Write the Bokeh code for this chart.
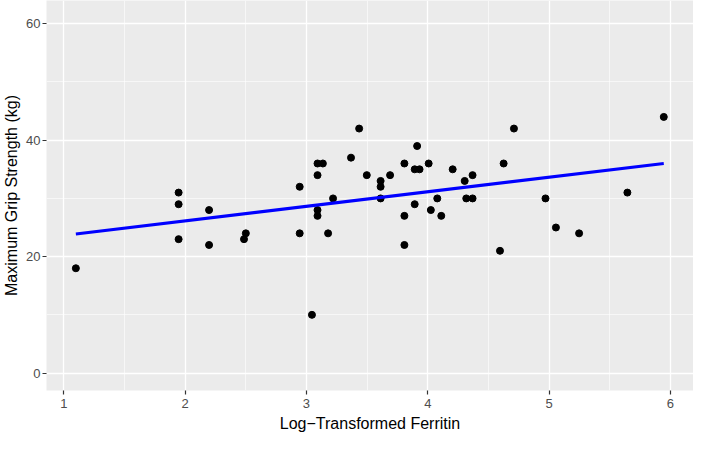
import numpy as np
from bokeh.plotting import figure
from bokeh.models import Range1d, FixedTicker, ColumnDataSource
from bokeh.embed import file_html
from bokeh.resources import INLINE

log_ferritin = [1.099, 1.946, 1.946, 1.946, 2.197, 2.197, 2.485, 2.500, 2.944, 2.944,
                3.045, 3.091, 3.135, 3.091, 3.091, 3.091, 3.178, 3.219, 3.367, 3.434,
                3.497, 3.611, 3.611, 3.611, 3.689, 3.807, 3.807, 3.807, 3.892, 3.932,
                3.912, 3.892, 4.007, 4.025, 4.078, 4.111, 4.205, 4.304, 4.317, 4.369,
                4.369, 4.595, 4.625, 4.710, 4.970, 5.056, 5.247, 5.645, 5.945]
grip_strength = [18, 31, 29, 23, 28, 22, 23, 24, 32, 24,
                 10, 36, 36, 34, 28, 27, 24, 30, 37, 42,
                 34, 33, 32, 30, 34, 36, 27, 22, 35, 35,
                 39, 29, 36, 28, 30, 27, 35, 33, 30, 34,
                 30, 21, 36, 42, 30, 25, 24, 31, 44]

x_ticks = [1, 2, 3, 4, 5, 6]
y_ticks = [0, 20, 40, 60]

x = np.array(log_ferritin)
y = np.array(grip_strength, dtype=float)
slope, intercept = np.polyfit(x, y, 1)
fit_x = np.array([x.min(), x.max()])
fit_y = intercept + slope * fit_x

FONT = "Liberation Sans"

p = figure(width=693, height=434, output_backend="svg", toolbar_location=None,
           x_range=Range1d(0.857, 6.19), y_range=Range1d(-3, 64),
           min_border_left=0, min_border_right=0, min_border_top=0, min_border_bottom=0)

p.background_fill_color = "#EBEBEB"
p.border_fill_color = "white"
p.outline_line_color = None

p.xaxis.ticker = FixedTicker(ticks=x_ticks, minor_ticks=[1.5, 2.5, 3.5, 4.5, 5.5])
p.yaxis.ticker = FixedTicker(ticks=y_ticks, minor_ticks=[10, 30, 50])

for g in (p.xgrid, p.ygrid):
    g.grid_line_color = "white"
    g.grid_line_width = 1.3
    g.minor_grid_line_color = "white"
    g.minor_grid_line_width = 0.6

for ax in (p.xaxis, p.yaxis):
    ax.axis_line_color = None
    ax.major_tick_line_color = "#333333"
    ax.major_tick_line_width = 1.2
    ax.major_tick_out = 4
    ax.major_tick_in = 0
    ax.minor_tick_line_color = None
    ax.major_label_text_color = "#4D4D4D"
    ax.major_label_text_font = FONT
    ax.major_label_text_font_size = "13px"
    ax.axis_label_text_font = FONT
    ax.axis_label_text_font_style = "normal"
    ax.axis_label_text_font_size = "16px"
    ax.axis_label_text_color = "black"

p.xaxis.axis_label = "Log\u2212Transformed Ferritin"
p.yaxis.axis_label = "Maximum Grip Strength (kg)"
p.xaxis.major_label_standoff = 4
p.yaxis.major_label_standoff = 2
p.xaxis.axis_label_standoff = 4
p.yaxis.axis_label_standoff = 3

src = ColumnDataSource(dict(x=log_ferritin, y=grip_strength))
p.scatter("x", "y", source=src, size=7, color="black")
p.line(fit_x, fit_y, line_color="#0000FF", line_width=3)

open("out.html", "w").write(file_html(p, INLINE))
